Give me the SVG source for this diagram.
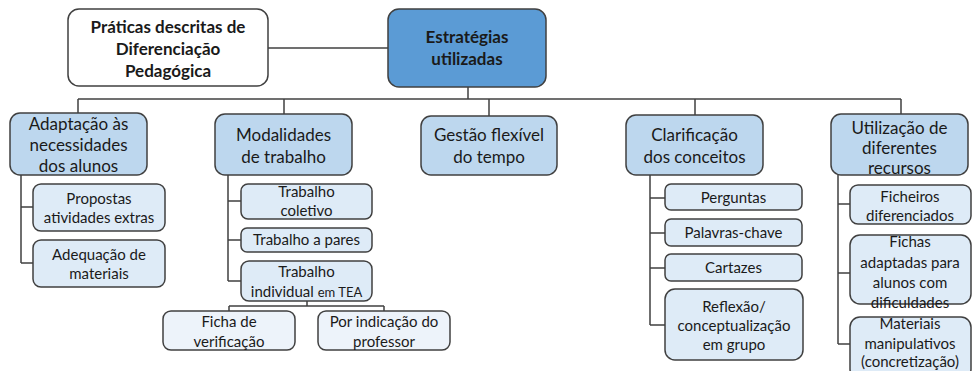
<svg xmlns="http://www.w3.org/2000/svg" width="972" height="371" viewBox="0 0 972 371">
<style>
  .box{stroke:#404040;stroke-width:1.5}
  .w{fill:#ffffff}
  .b0{fill:#5B9BD5}
  .b1{fill:#BDD7EE}
  .b2{fill:#DEEBF7}
  .b3{fill:#EDF3FA}
  text{font-family:Lato,"Liberation Sans",sans-serif;fill:#1a1a1a;text-anchor:middle}
  .t0{font-size:17px;font-weight:bold}
  .t1{font-size:17px}
  .t2{font-size:15px}
  .sm{font-size:13px}
  .con{fill:none;stroke:#404040;stroke-width:1.5}
</style>
<rect width="972" height="371" fill="#ffffff"/>
<g id="connectors" class="con">
  <path d="M268 48H388"/>
  <path d="M468 87V99"/>
  <path d="M78 99H901"/>
  <path d="M78 99V113M284 99V114M489 99V116M695 99V115M901 99V114"/>
  <path d="M21 175V263M21 207H33M21 263H33"/>
  <path d="M228 175V281M228 201H241M228 240H241M228 281H241"/>
  <path d="M307 301V306M229 306H384M229 306V311M384 306V311"/>
  <path d="M650 175V325M650 198H665M650 233H665M650 268H665M650 325H665"/>
  <path d="M838 175V344M838 204H850M838 273H850M838 344H850"/>
</g>
<g id="praticas">
  <rect class="box w" x="68" y="9" width="200" height="77" rx="11"/>
  <text class="t0" x="168" y="33">Práticas descritas de</text>
  <text class="t0" x="168" y="55">Diferenciação</text>
  <text class="t0" x="168" y="77">Pedagógica</text>
</g>
<g id="estrategias">
  <rect class="box b0" x="388" y="9" width="158" height="78" rx="11"/>
  <text class="t0" x="467" y="43">Estratégias</text>
  <text class="t0" x="467" y="65">utilizadas</text>
</g>
<g id="adaptacao">
  <rect class="box b1" x="10" y="113" width="137" height="62" rx="10"/>
  <text class="t1" x="78.5" y="130">Adaptação às</text>
  <text class="t1" x="78.5" y="151">necessidades</text>
  <text class="t1" x="78.5" y="172">dos alunos</text>
</g>
<g id="modalidades">
  <rect class="box b1" x="215" y="114" width="137" height="61" rx="10"/>
  <text class="t1" x="283.5" y="141">Modalidades</text>
  <text class="t1" x="283.5" y="163">de trabalho</text>
</g>
<g id="gestao">
  <rect class="box b1" x="421" y="116" width="136" height="59" rx="10"/>
  <text class="t1" x="489" y="141">Gestão flexível</text>
  <text class="t1" x="489" y="163">do tempo</text>
</g>
<g id="clarificacao">
  <rect class="box b1" x="626" y="115" width="137" height="60" rx="10"/>
  <text class="t1" x="694.5" y="141">Clarificação</text>
  <text class="t1" x="694.5" y="163">dos conceitos</text>
</g>
<g id="utilizacao">
  <rect class="box b1" x="831" y="114" width="137" height="61" rx="10"/>
  <text class="t1" x="899.5" y="134">Utilização de</text>
  <text class="t1" x="899.5" y="154">diferentes</text>
  <text class="t1" x="899.5" y="174">recursos</text>
</g>
<g id="propostas">
  <rect class="box b2" x="33" y="184" width="132" height="47" rx="8"/>
  <text class="t2" x="99" y="204">Propostas</text>
  <text class="t2" x="99" y="223">atividades extras</text>
</g>
<g id="adequacao">
  <rect class="box b2" x="33" y="240" width="132" height="47" rx="8"/>
  <text class="t2" x="99" y="260">Adequação de</text>
  <text class="t2" x="99" y="279">materiais</text>
</g>
<g id="coletivo">
  <rect class="box b2" x="241" y="184" width="131" height="35" rx="7"/>
  <text class="t2" x="306.5" y="197">Trabalho</text>
  <text class="t2" x="306.5" y="216">coletivo</text>
</g>
<g id="pares">
  <rect class="box b2" x="241" y="228" width="131" height="24" rx="6"/>
  <text class="t2" x="306.5" y="245">Trabalho a pares</text>
</g>
<g id="individual">
  <rect class="box b2" x="241" y="261" width="131" height="40" rx="8"/>
  <text class="t2" x="306.5" y="277">Trabalho</text>
  <text class="t2" x="306.5" y="297">individual <tspan class="sm">em TEA</tspan></text>
</g>
<g id="ficha-verificacao">
  <rect class="box b3" x="163" y="311" width="132" height="39" rx="8"/>
  <text class="t2" x="229" y="327">Ficha de</text>
  <text class="t2" x="229" y="347">verificação</text>
</g>
<g id="indicacao">
  <rect class="box b3" x="318" y="311" width="132" height="39" rx="8"/>
  <text class="t2" x="384" y="327">Por indicação do</text>
  <text class="t2" x="384" y="347">professor</text>
</g>
<g id="perguntas">
  <rect class="box b2" x="665" y="184" width="137" height="26" rx="6"/>
  <text class="t2" x="733.5" y="203">Perguntas</text>
</g>
<g id="palavras">
  <rect class="box b2" x="665" y="219" width="137" height="27" rx="6"/>
  <text class="t2" x="733.5" y="238">Palavras-chave</text>
</g>
<g id="cartazes">
  <rect class="box b2" x="665" y="254" width="137" height="27" rx="6"/>
  <text class="t2" x="733.5" y="273">Cartazes</text>
</g>
<g id="reflexao">
  <rect class="box b2" x="665" y="289" width="138" height="71" rx="10"/>
  <text class="t2" x="734" y="312">Reflexão/</text>
  <text class="t2" x="734" y="331">conceptualização</text>
  <text class="t2" x="734" y="350">em grupo</text>
</g>
<g id="ficheiros">
  <rect class="box b2" x="850" y="185" width="121" height="39" rx="8"/>
  <text class="t2" x="910" y="202">Ficheiros</text>
  <text class="t2" x="910" y="221">diferenciados</text>
</g>
<g id="fichas">
  <rect class="box b2" x="850" y="235" width="121" height="69" rx="10"/>
  <text class="t2" x="910" y="247">Fichas</text>
  <text class="t2" x="910" y="268">adaptadas para</text>
  <text class="t2" x="910" y="288">alunos com</text>
  <text class="t2" x="910" y="308">dificuldades</text>
</g>
<g id="materiais">
  <rect class="box b2" x="850" y="317" width="121" height="62" rx="10"/>
  <text class="t2" x="910" y="329">Materiais</text>
  <text class="t2" x="910" y="349">manipulativos</text>
  <text class="t2" x="910" y="367">(concretização)</text>
</g>
</svg>
